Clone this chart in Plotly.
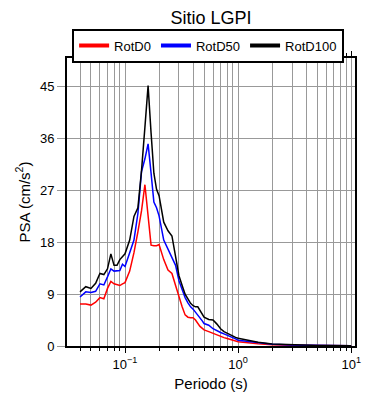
import numpy as np
import plotly.graph_objects as go

periods = [0.04, 0.045, 0.05, 0.055, 0.06, 0.065, 0.07, 0.075, 0.08, 0.085, 0.09, 0.095,
           0.1, 0.11, 0.12, 0.13, 0.14, 0.15, 0.16, 0.17, 0.18, 0.19, 0.2, 0.22, 0.24,
           0.26, 0.28, 0.3, 0.32, 0.34, 0.36, 0.38, 0.4, 0.42, 0.44, 0.46, 0.48, 0.5,
           0.55, 0.6, 0.65, 0.7, 0.75, 0.8, 0.85, 0.9, 0.95, 1.0, 1.5, 2, 3, 4, 5, 6, 8, 10]

rotd0 = [7.3, 7.3, 7.1, 7.6, 8.4, 8.2, 10.0, 11.2, 10.8, 10.6, 10.5, 10.8,
         11.0, 13.0, 16.2, 19.8, 23.5, 28.0, 22.5, 17.5, 17.4, 17.4, 17.6, 15.0, 13.2,
         12.6, 10.5, 8.4, 6.8, 5.4, 5.0, 4.9, 4.9, 4.5, 3.9, 3.4, 3.1, 2.8,
         2.5, 2.2, 1.9, 1.6, 1.45, 1.3, 1.15, 1.05, 0.9, 0.75, 0.4, 0.22, 0.12, 0.08, 0.06, 0.05, 0.04, 0.03]

rotd50 = [8.5, 9.4, 9.3, 9.5, 10.8, 10.6, 12.0, 13.4, 13.0, 13.1, 13.1, 14.2,
          13.8, 16.2, 18.4, 23.0, 30.3, 32.5, 35.1, 30.0, 25.0, 24.0, 22.6, 18.4, 16.8,
          15.4, 14.0, 11.3, 9.6, 8.4, 7.5, 6.8, 6.4, 5.9, 5.4, 4.9, 4.4, 3.9,
          3.6, 3.0, 2.6, 2.35, 2.1, 1.9, 1.65, 1.45, 1.25, 1.0, 0.55, 0.3, 0.17, 0.11, 0.08, 0.07, 0.05, 0.04]

rotd100 = [9.4, 10.3, 10.0, 10.9, 12.6, 12.4, 13.4, 16.0, 14.0, 14.0, 15.0, 15.5,
           16.0, 18.4, 22.5, 24.0, 30.5, 38.0, 45.2, 37.0, 30.0, 27.2, 26.1, 21.5, 20.0,
           19.1, 15.5, 12.2, 10.5, 9.0, 8.2, 7.4, 7.0, 6.8, 6.8, 6.2, 5.6, 5.0,
           4.6, 4.5, 3.8, 3.0, 2.5, 2.2, 1.9, 1.7, 1.5, 1.35, 0.65, 0.35, 0.2, 0.13, 0.1, 0.08, 0.06, 0.05]

series_names = ["RotD0", "RotD50", "RotD100"]
series_colors = ["#ff0000", "#0000ff", "#000000"]
y_ticks = [0, 9, 18, 27, 36, 45]
x_ticks = [0.1, 1, 10]
x_ticktext = ["10<sup>\u22121</sup>", "10<sup>0</sup>", "10<sup>1</sup>"]

font = "Liberation Sans, Arial, sans-serif"

fig = go.Figure()
for name, vals, col in zip(series_names, [rotd0, rotd50, rotd100], series_colors):
    fig.add_trace(go.Scatter(x=periods, y=vals, mode="lines", name=name, showlegend=False,
                             line=dict(color=col, width=1.5)))
# legend entries with thicker sample lines
for name, col in zip(series_names, series_colors):
    fig.add_trace(go.Scatter(x=[None], y=[None], mode="lines", name=name,
                             line=dict(color=col, width=4)))

fig.update_layout(
    width=382, height=392,
    margin=dict(l=59, r=35, t=50, b=54, autoexpand=False),
    paper_bgcolor="white", plot_bgcolor="white",
    font=dict(family=font, color="#000000", size=13),
    title=dict(text="Sitio LGPI", x=(59 + 144) / 382, xanchor="center", y=1 - 9.5 / 392,
               yanchor="middle", font=dict(size=18, family=font)),
    legend=dict(orientation="h", x=0.49, xanchor="center", y=1.102, yanchor="top",
                bordercolor="#000000", borderwidth=2, bgcolor="white",
                font=dict(size=13, family=font), itemwidth=30,
                tracegroupgap=0),
    showlegend=True,
)

fig.update_xaxes(
    type="log", range=[np.log10(0.0307), np.log10(10.8)],
    tickvals=x_ticks, ticktext=x_ticktext,
    showline=True, linecolor="#000000", linewidth=2, mirror="ticks",
    ticks="outside", ticklen=5, tickcolor="#000000", tickwidth=1,
    showgrid=True, gridcolor="#999999", gridwidth=1,
    minor=dict(ticks="outside", ticklen=3, tickcolor="#000000", showgrid=True,
               gridcolor="#999999", gridwidth=1, dtick="D1"),
    title=dict(text="Periodo (s)", font=dict(size=15, family=font), standoff=8),
    tickfont=dict(size=13, family=font),
    zeroline=False, automargin=False,
)
fig.update_yaxes(
    range=[0, 50], tickvals=y_ticks,
    showline=True, linecolor="#000000", linewidth=2, mirror=True,
    ticks="outside", ticklen=8, tickcolor="#999999", tickwidth=1,
    showgrid=True, gridcolor="#999999", gridwidth=1,
    title=dict(text="PSA (cm/s<sup>2</sup>)", font=dict(size=15, family=font), standoff=6),
    tickfont=dict(size=13, family=font),
    zeroline=False, automargin=False,
)

fig.write_html("out.html")
